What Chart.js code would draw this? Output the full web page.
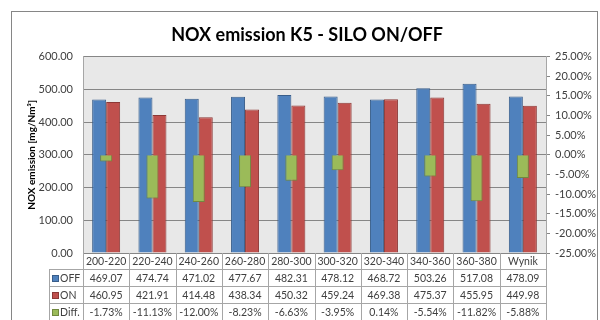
<!DOCTYPE html>
<html>
<head>
<meta charset="utf-8">
<script src="https://cdn.jsdelivr.net/npm/chart.js@4.4.1/dist/chart.umd.min.js"></script>
<style>
  body { margin: 0; background: #fff; }
  #wrap { width: 600px; height: 320px; }
</style>
</head>
<body>
<div id="wrap"><canvas id="nox-chart" width="600" height="320"></canvas></div>
<script>
var categories = ['200-220', '220-240', '240-260', '260-280', '280-300', '300-320', '320-340', '340-360', '360-380', 'Wynik'];
var offValues = [469.07, 474.74, 471.02, 477.67, 482.31, 478.12, 468.72, 503.26, 517.08, 478.09];
var onValues = [460.95, 421.91, 414.48, 438.34, 450.32, 459.24, 469.38, 475.37, 455.95, 449.98];
var diffValues = [-1.73, -11.13, -12.00, -8.23, -6.63, -3.95, 0.14, -5.54, -11.82, -5.88];
var leftAxis = { min: 0, max: 600, step: 100 };
var rightAxis = { min: -25, max: 25, step: 5 };

var FONT = 'Lato';
var gridColor = '#868686';
var lineColor = '#a6a6a6';

// white background + outer frame + grey plot area
var frame = {
	id: 'frame',
	beforeDraw: function(chart) {
		var c = chart.ctx, a = chart.chartArea;
		c.save();
		c.fillStyle = '#fff';
		c.fillRect(0, 0, chart.width, chart.height);
		c.strokeStyle = '#868686';
		c.lineWidth = 1;
		c.strokeRect(11.5, 11.5, 586, 330);
		c.fillStyle = '#e8e8e8';
		c.fillRect(a.left, a.top, a.right - a.left, a.bottom - a.top);
		c.restore();
	}
};

// excel style data table under the plot
var dataTable = {
	id: 'dataTable',
	afterDraw: function(chart) {
		var c = chart.ctx, a = chart.chartArea, x = chart.scales.x;
		var w = (a.right - a.left) / categories.length;
		var rows = [a.bottom, a.bottom + 16, a.bottom + 33, a.bottom + 50, a.bottom + 67];
		var headLeft = 49;
		var series = [
			{ name: 'OFF', fill: '#4f81bd', stroke: '#385d8a', vals: offValues.map(function(v) { return v.toFixed(2); }) },
			{ name: 'ON', fill: '#c0504d', stroke: '#8c3836', vals: onValues.map(function(v) { return v.toFixed(2); }) },
			{ name: 'Diff.', fill: '#9bbb59', stroke: '#71893f', vals: diffValues.map(function(v) { return v.toFixed(2) + '%'; }) }
		];
		c.save();
		c.strokeStyle = lineColor;
		c.lineWidth = 1;
		c.beginPath();
		for (var i = 1; i < rows.length; i++) {
			var y = Math.round(rows[i]) + 0.5;
			c.moveTo(headLeft, y);
			c.lineTo(a.right, y);
		}
		c.moveTo(headLeft + 0.5, rows[1]);
		c.lineTo(headLeft + 0.5, rows[4]);
		for (var j = 0; j <= categories.length; j++) {
			var bx = Math.round(a.left + j * w) + 0.5;
			c.moveTo(bx, rows[0]);
			c.lineTo(bx, rows[4]);
		}
		c.stroke();

		c.font = '10.5px ' + FONT;
		c.fillStyle = '#404040';
		c.textAlign = 'center';
		c.textBaseline = 'middle';
		categories.forEach(function(cat, k) {
			c.fillText(cat, x.getPixelForValue(k), (rows[0] + rows[1]) / 2 + 1);
		});
		series.forEach(function(s, r) {
			var cy = (rows[r + 1] + rows[r + 2]) / 2 + 1;
			s.vals.forEach(function(t, k) {
				c.fillText(t, x.getPixelForValue(k), cy);
			});
			c.fillStyle = s.fill;
			c.fillRect(52, Math.round(cy) - 4, 6, 6);
			c.strokeStyle = s.stroke;
			c.strokeRect(52.5, Math.round(cy) - 3.5, 6, 6);
			c.fillStyle = '#404040';
			c.textAlign = 'left';
			c.fillText(s.name, 60, cy);
			c.textAlign = 'center';
		});
		c.restore();
	}
};

var ctx = document.getElementById('nox-chart').getContext('2d');
var noxChart = new Chart(ctx, {
	type: 'bar',
	data: {
		labels: categories,
		datasets: [
			{
				label: 'Diff.',
				data: diffValues,
				yAxisID: 'y2',
				grouped: false,
				order: -1,
				backgroundColor: '#9bbb59',
				borderColor: '#71893f',
				borderWidth: 1,
				categoryPercentage: 1,
				barPercentage: 0.26
			},
			{
				label: 'OFF',
				data: offValues,
				yAxisID: 'y',
				backgroundColor: '#4f81bd',
				borderColor: '#385d8a',
				borderWidth: 1,
				categoryPercentage: 0.605,
				barPercentage: 1
			},
			{
				label: 'ON',
				data: onValues,
				yAxisID: 'y',
				backgroundColor: '#c0504d',
				borderColor: '#8c3836',
				borderWidth: 1,
				categoryPercentage: 0.605,
				barPercentage: 1
			}
		]
	},
	options: {
		responsive: false,
		animation: false,
		layout: { padding: { left: 14, right: 0, top: 14, bottom: 67 } },
		plugins: {
			legend: { display: false },
			tooltip: { enabled: false },
			title: {
				display: true,
				text: 'NOX emission K5 - SILO ON/OFF',
				color: '#000',
				font: { family: FONT, size: 18, weight: 'bold' },
				padding: { top: 10, bottom: 11 }
			}
		},
		scales: {
			x: {
				display: false
			},
			y: {
				position: 'left',
				min: leftAxis.min,
				max: leftAxis.max,
				afterFit: function(s) { s.width = 69; },
				ticks: {
					stepSize: leftAxis.step,
					padding: 10,
					color: '#404040',
					font: { family: FONT, size: 11 },
					callback: function(v) { return v.toFixed(2); }
				},
				grid: { color: gridColor, drawTicks: false },
				border: { display: true, color: lineColor },
				title: {
					display: true,
					text: 'NOX emission [mg/Nm³]',
					color: '#000',
					font: { family: FONT, size: 10, weight: 'bold' },
					padding: { top: 12, bottom: 0 }
				}
			},
			y2: {
				position: 'right',
				min: rightAxis.min,
				max: rightAxis.max,
				afterFit: function(s) { s.width = 54; },
				ticks: {
					stepSize: rightAxis.step,
					padding: 5,
					color: '#404040',
					font: { family: FONT, size: 11 },
					callback: function(v) { return v.toFixed(2) + '%'; }
				},
				grid: { drawOnChartArea: false, drawTicks: true, tickLength: 4, color: gridColor },
				border: { display: true, color: lineColor }
			}
		}
	},
	plugins: [frame, dataTable]
});
</script>
</body>
</html>
